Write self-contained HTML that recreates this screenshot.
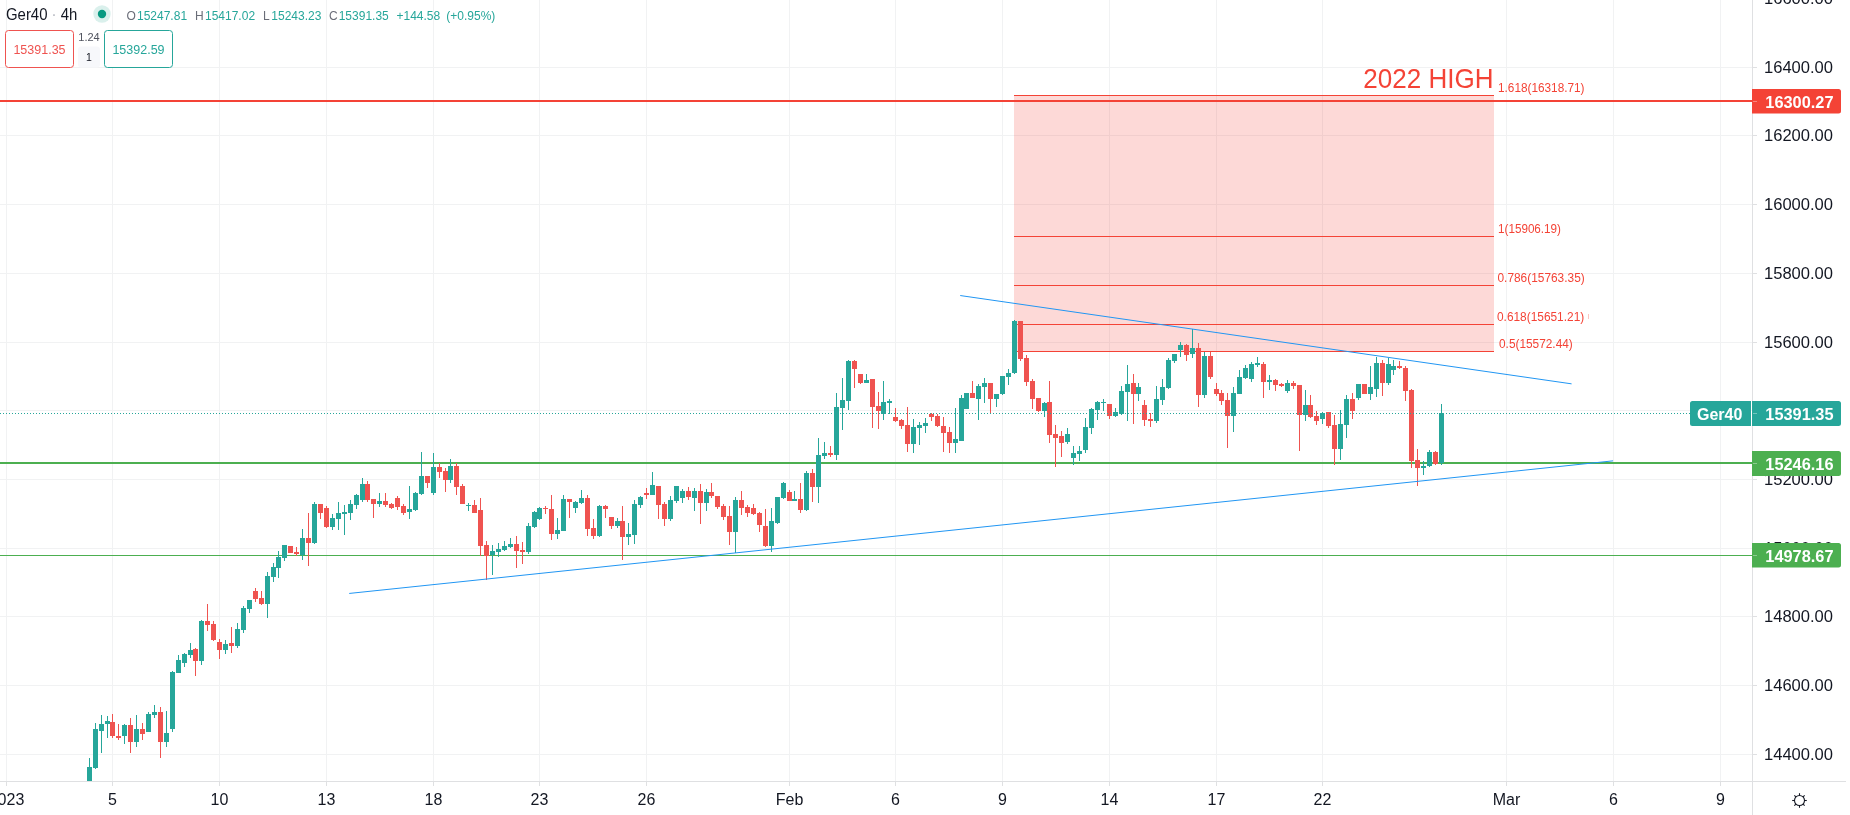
<!DOCTYPE html>
<html><head><meta charset="utf-8"><style>
html,body{margin:0;padding:0;background:#fff;}
body{width:1850px;height:815px;overflow:hidden;position:relative;font-family:"Liberation Sans", sans-serif;}
svg{position:absolute;left:0;top:0;will-change:transform;}
svg text{font-family:"Liberation Sans", sans-serif;}
.hdr{position:absolute;white-space:nowrap;}
</style></head><body>
<svg width="1850" height="815" viewBox="0 0 1850 815" shape-rendering="crispEdges">
<rect x="6" y="0" width="1" height="781" fill="#f1f2f3"/><rect x="112" y="0" width="1" height="781" fill="#f1f2f3"/><rect x="219" y="0" width="1" height="781" fill="#f1f2f3"/><rect x="326" y="0" width="1" height="781" fill="#f1f2f3"/><rect x="433" y="0" width="1" height="781" fill="#f1f2f3"/><rect x="539" y="0" width="1" height="781" fill="#f1f2f3"/><rect x="646" y="0" width="1" height="781" fill="#f1f2f3"/><rect x="789" y="0" width="1" height="781" fill="#f1f2f3"/><rect x="895" y="0" width="1" height="781" fill="#f1f2f3"/><rect x="1002" y="0" width="1" height="781" fill="#f1f2f3"/><rect x="1109" y="0" width="1" height="781" fill="#f1f2f3"/><rect x="1216" y="0" width="1" height="781" fill="#f1f2f3"/><rect x="1322" y="0" width="1" height="781" fill="#f1f2f3"/><rect x="1506" y="0" width="1" height="781" fill="#f1f2f3"/><rect x="1613" y="0" width="1" height="781" fill="#f1f2f3"/><rect x="1720" y="0" width="1" height="781" fill="#f1f2f3"/><rect x="0" y="-2" width="1752" height="1" fill="#f1f2f3"/><rect x="0" y="67" width="1752" height="1" fill="#f1f2f3"/><rect x="0" y="135" width="1752" height="1" fill="#f1f2f3"/><rect x="0" y="204" width="1752" height="1" fill="#f1f2f3"/><rect x="0" y="273" width="1752" height="1" fill="#f1f2f3"/><rect x="0" y="342" width="1752" height="1" fill="#f1f2f3"/><rect x="0" y="410" width="1752" height="1" fill="#f1f2f3"/><rect x="0" y="479" width="1752" height="1" fill="#f1f2f3"/><rect x="0" y="548" width="1752" height="1" fill="#f1f2f3"/><rect x="0" y="616" width="1752" height="1" fill="#f1f2f3"/><rect x="0" y="685" width="1752" height="1" fill="#f1f2f3"/><rect x="0" y="754" width="1752" height="1" fill="#f1f2f3"/><rect x="1014" y="95" width="480" height="256" fill="#f44336" fill-opacity="0.2"/><rect x="1014" y="95" width="480" height="1" fill="#f44336"/><rect x="1014" y="236" width="480" height="1" fill="#f44336"/><rect x="1014" y="285" width="480" height="1" fill="#f44336"/><rect x="1014" y="324" width="480" height="1" fill="#f44336"/><rect x="1014" y="351" width="480" height="1" fill="#f44336"/><rect x="0" y="100" width="1752" height="2" fill="#f44336"/><rect x="0" y="462" width="1752" height="2" fill="#4caf50"/><rect x="0" y="555" width="1752" height="1" fill="#4caf50"/><rect x="89" y="758" width="1" height="23" fill="#26a69a"/><rect x="87" y="767" width="5" height="14" fill="#26a69a"/><rect x="95" y="723" width="1" height="46" fill="#26a69a"/><rect x="93" y="729" width="5" height="39" fill="#26a69a"/><rect x="101" y="715" width="1" height="38" fill="#26a69a"/><rect x="99" y="724" width="5" height="7" fill="#26a69a"/><rect x="107" y="716" width="1" height="22" fill="#26a69a"/><rect x="105" y="721" width="5" height="3" fill="#26a69a"/><rect x="112" y="714" width="1" height="24" fill="#ef5350"/><rect x="110" y="722" width="5" height="14" fill="#ef5350"/><rect x="118" y="724" width="1" height="16" fill="#ef5350"/><rect x="116" y="736" width="5" height="2" fill="#ef5350"/><rect x="124" y="724" width="1" height="20" fill="#26a69a"/><rect x="122" y="725" width="5" height="11" fill="#26a69a"/><rect x="130" y="718" width="1" height="35" fill="#ef5350"/><rect x="128" y="725" width="5" height="17" fill="#ef5350"/><rect x="136" y="715" width="1" height="32" fill="#26a69a"/><rect x="134" y="729" width="5" height="13" fill="#26a69a"/><rect x="142" y="723" width="1" height="17" fill="#ef5350"/><rect x="140" y="729" width="5" height="5" fill="#ef5350"/><rect x="148" y="712" width="1" height="20" fill="#26a69a"/><rect x="146" y="714" width="5" height="18" fill="#26a69a"/><rect x="154" y="705" width="1" height="13" fill="#26a69a"/><rect x="152" y="712" width="5" height="3" fill="#26a69a"/><rect x="160" y="707" width="1" height="51" fill="#ef5350"/><rect x="158" y="712" width="5" height="30" fill="#ef5350"/><rect x="166" y="711" width="1" height="36" fill="#26a69a"/><rect x="164" y="733" width="5" height="9" fill="#26a69a"/><rect x="172" y="671" width="1" height="61" fill="#26a69a"/><rect x="170" y="672" width="5" height="57" fill="#26a69a"/><rect x="178" y="655" width="1" height="18" fill="#26a69a"/><rect x="176" y="660" width="5" height="13" fill="#26a69a"/><rect x="184" y="653" width="1" height="14" fill="#26a69a"/><rect x="182" y="654" width="5" height="9" fill="#26a69a"/><rect x="190" y="643" width="1" height="15" fill="#26a69a"/><rect x="188" y="650" width="5" height="5" fill="#26a69a"/><rect x="195" y="648" width="1" height="28" fill="#ef5350"/><rect x="193" y="649" width="5" height="12" fill="#ef5350"/><rect x="201" y="620" width="1" height="45" fill="#26a69a"/><rect x="199" y="621" width="5" height="40" fill="#26a69a"/><rect x="207" y="604" width="1" height="27" fill="#ef5350"/><rect x="205" y="621" width="5" height="4" fill="#ef5350"/><rect x="213" y="621" width="1" height="20" fill="#ef5350"/><rect x="211" y="624" width="5" height="16" fill="#ef5350"/><rect x="219" y="639" width="1" height="20" fill="#ef5350"/><rect x="217" y="642" width="5" height="8" fill="#ef5350"/><rect x="225" y="640" width="1" height="14" fill="#26a69a"/><rect x="223" y="644" width="5" height="6" fill="#26a69a"/><rect x="231" y="627" width="1" height="26" fill="#ef5350"/><rect x="229" y="643" width="5" height="3" fill="#ef5350"/><rect x="237" y="623" width="1" height="25" fill="#26a69a"/><rect x="235" y="629" width="5" height="17" fill="#26a69a"/><rect x="243" y="606" width="1" height="27" fill="#26a69a"/><rect x="241" y="608" width="5" height="22" fill="#26a69a"/><rect x="249" y="600" width="1" height="13" fill="#26a69a"/><rect x="247" y="600" width="5" height="9" fill="#26a69a"/><rect x="255" y="588" width="1" height="14" fill="#ef5350"/><rect x="253" y="591" width="5" height="8" fill="#ef5350"/><rect x="261" y="591" width="1" height="14" fill="#ef5350"/><rect x="259" y="598" width="5" height="6" fill="#ef5350"/><rect x="267" y="572" width="1" height="46" fill="#26a69a"/><rect x="265" y="576" width="5" height="28" fill="#26a69a"/><rect x="273" y="563" width="1" height="19" fill="#26a69a"/><rect x="271" y="567" width="5" height="10" fill="#26a69a"/><rect x="278" y="551" width="1" height="27" fill="#26a69a"/><rect x="276" y="557" width="5" height="11" fill="#26a69a"/><rect x="284" y="545" width="1" height="16" fill="#26a69a"/><rect x="282" y="545" width="5" height="13" fill="#26a69a"/><rect x="290" y="546" width="1" height="7" fill="#ef5350"/><rect x="288" y="546" width="5" height="7" fill="#ef5350"/><rect x="296" y="547" width="1" height="9" fill="#ef5350"/><rect x="294" y="552" width="5" height="2" fill="#ef5350"/><rect x="302" y="529" width="1" height="31" fill="#26a69a"/><rect x="300" y="538" width="5" height="17" fill="#26a69a"/><rect x="308" y="513" width="1" height="53" fill="#ef5350"/><rect x="306" y="538" width="5" height="5" fill="#ef5350"/><rect x="314" y="502" width="1" height="42" fill="#26a69a"/><rect x="312" y="504" width="5" height="39" fill="#26a69a"/><rect x="320" y="504" width="1" height="15" fill="#ef5350"/><rect x="318" y="504" width="5" height="9" fill="#ef5350"/><rect x="326" y="506" width="1" height="22" fill="#ef5350"/><rect x="324" y="508" width="5" height="19" fill="#ef5350"/><rect x="332" y="514" width="1" height="16" fill="#26a69a"/><rect x="330" y="518" width="5" height="9" fill="#26a69a"/><rect x="338" y="502" width="1" height="28" fill="#26a69a"/><rect x="336" y="513" width="5" height="6" fill="#26a69a"/><rect x="344" y="505" width="1" height="30" fill="#26a69a"/><rect x="342" y="512" width="5" height="2" fill="#26a69a"/><rect x="350" y="500" width="1" height="20" fill="#26a69a"/><rect x="348" y="504" width="5" height="9" fill="#26a69a"/><rect x="356" y="494" width="1" height="15" fill="#26a69a"/><rect x="354" y="495" width="5" height="10" fill="#26a69a"/><rect x="362" y="478" width="1" height="24" fill="#26a69a"/><rect x="360" y="484" width="5" height="16" fill="#26a69a"/><rect x="367" y="481" width="1" height="21" fill="#ef5350"/><rect x="365" y="484" width="5" height="16" fill="#ef5350"/><rect x="373" y="499" width="1" height="19" fill="#ef5350"/><rect x="371" y="499" width="5" height="5" fill="#ef5350"/><rect x="379" y="493" width="1" height="14" fill="#26a69a"/><rect x="377" y="501" width="5" height="3" fill="#26a69a"/><rect x="385" y="493" width="1" height="14" fill="#ef5350"/><rect x="383" y="501" width="5" height="4" fill="#ef5350"/><rect x="391" y="503" width="1" height="6" fill="#ef5350"/><rect x="389" y="504" width="5" height="4" fill="#ef5350"/><rect x="397" y="496" width="1" height="14" fill="#ef5350"/><rect x="395" y="498" width="5" height="9" fill="#ef5350"/><rect x="403" y="504" width="1" height="11" fill="#ef5350"/><rect x="401" y="506" width="5" height="7" fill="#ef5350"/><rect x="409" y="486" width="1" height="33" fill="#26a69a"/><rect x="407" y="509" width="5" height="3" fill="#26a69a"/><rect x="415" y="492" width="1" height="19" fill="#26a69a"/><rect x="413" y="493" width="5" height="17" fill="#26a69a"/><rect x="421" y="452" width="1" height="43" fill="#26a69a"/><rect x="419" y="476" width="5" height="18" fill="#26a69a"/><rect x="427" y="476" width="1" height="12" fill="#ef5350"/><rect x="425" y="476" width="5" height="7" fill="#ef5350"/><rect x="433" y="453" width="1" height="42" fill="#26a69a"/><rect x="431" y="467" width="5" height="26" fill="#26a69a"/><rect x="439" y="463" width="1" height="15" fill="#ef5350"/><rect x="437" y="467" width="5" height="5" fill="#ef5350"/><rect x="445" y="468" width="1" height="24" fill="#ef5350"/><rect x="443" y="471" width="5" height="9" fill="#ef5350"/><rect x="450" y="459" width="1" height="24" fill="#26a69a"/><rect x="448" y="466" width="5" height="14" fill="#26a69a"/><rect x="456" y="463" width="1" height="32" fill="#ef5350"/><rect x="454" y="466" width="5" height="21" fill="#ef5350"/><rect x="462" y="484" width="1" height="20" fill="#ef5350"/><rect x="460" y="486" width="5" height="18" fill="#ef5350"/><rect x="468" y="503" width="1" height="8" fill="#26a69a"/><rect x="466" y="505" width="5" height="1" fill="#26a69a"/><rect x="474" y="500" width="1" height="13" fill="#ef5350"/><rect x="472" y="505" width="5" height="8" fill="#ef5350"/><rect x="480" y="498" width="1" height="58" fill="#ef5350"/><rect x="478" y="510" width="5" height="36" fill="#ef5350"/><rect x="486" y="541" width="1" height="39" fill="#ef5350"/><rect x="484" y="545" width="5" height="11" fill="#ef5350"/><rect x="492" y="545" width="1" height="30" fill="#26a69a"/><rect x="490" y="551" width="5" height="4" fill="#26a69a"/><rect x="498" y="543" width="1" height="14" fill="#26a69a"/><rect x="496" y="549" width="5" height="3" fill="#26a69a"/><rect x="504" y="541" width="1" height="10" fill="#26a69a"/><rect x="502" y="546" width="5" height="4" fill="#26a69a"/><rect x="510" y="538" width="1" height="10" fill="#26a69a"/><rect x="508" y="544" width="5" height="3" fill="#26a69a"/><rect x="516" y="536" width="1" height="32" fill="#ef5350"/><rect x="514" y="544" width="5" height="7" fill="#ef5350"/><rect x="522" y="542" width="1" height="22" fill="#ef5350"/><rect x="520" y="550" width="5" height="2" fill="#ef5350"/><rect x="528" y="523" width="1" height="31" fill="#26a69a"/><rect x="526" y="526" width="5" height="26" fill="#26a69a"/><rect x="534" y="511" width="1" height="17" fill="#26a69a"/><rect x="532" y="512" width="5" height="15" fill="#26a69a"/><rect x="539" y="507" width="1" height="13" fill="#26a69a"/><rect x="537" y="508" width="5" height="11" fill="#26a69a"/><rect x="545" y="506" width="1" height="8" fill="#ef5350"/><rect x="543" y="508" width="5" height="1" fill="#ef5350"/><rect x="551" y="495" width="1" height="45" fill="#ef5350"/><rect x="549" y="509" width="5" height="25" fill="#ef5350"/><rect x="557" y="518" width="1" height="21" fill="#26a69a"/><rect x="555" y="530" width="5" height="4" fill="#26a69a"/><rect x="563" y="495" width="1" height="36" fill="#26a69a"/><rect x="561" y="499" width="5" height="32" fill="#26a69a"/><rect x="569" y="499" width="1" height="19" fill="#ef5350"/><rect x="567" y="499" width="5" height="3" fill="#ef5350"/><rect x="575" y="501" width="1" height="12" fill="#26a69a"/><rect x="573" y="502" width="5" height="6" fill="#26a69a"/><rect x="581" y="490" width="1" height="14" fill="#26a69a"/><rect x="579" y="498" width="5" height="5" fill="#26a69a"/><rect x="587" y="495" width="1" height="41" fill="#ef5350"/><rect x="585" y="498" width="5" height="31" fill="#ef5350"/><rect x="593" y="519" width="1" height="20" fill="#ef5350"/><rect x="591" y="528" width="5" height="8" fill="#ef5350"/><rect x="599" y="505" width="1" height="32" fill="#26a69a"/><rect x="597" y="506" width="5" height="30" fill="#26a69a"/><rect x="605" y="505" width="1" height="13" fill="#ef5350"/><rect x="603" y="506" width="5" height="3" fill="#ef5350"/><rect x="611" y="517" width="1" height="12" fill="#ef5350"/><rect x="609" y="517" width="5" height="9" fill="#ef5350"/><rect x="617" y="518" width="1" height="10" fill="#26a69a"/><rect x="615" y="521" width="5" height="5" fill="#26a69a"/><rect x="622" y="506" width="1" height="54" fill="#ef5350"/><rect x="620" y="521" width="5" height="16" fill="#ef5350"/><rect x="628" y="523" width="1" height="22" fill="#26a69a"/><rect x="626" y="534" width="5" height="3" fill="#26a69a"/><rect x="634" y="500" width="1" height="44" fill="#26a69a"/><rect x="632" y="504" width="5" height="31" fill="#26a69a"/><rect x="640" y="496" width="1" height="12" fill="#26a69a"/><rect x="638" y="497" width="5" height="8" fill="#26a69a"/><rect x="646" y="488" width="1" height="11" fill="#ef5350"/><rect x="644" y="493" width="5" height="2" fill="#ef5350"/><rect x="652" y="472" width="1" height="23" fill="#26a69a"/><rect x="650" y="485" width="5" height="10" fill="#26a69a"/><rect x="658" y="486" width="1" height="33" fill="#ef5350"/><rect x="656" y="486" width="5" height="19" fill="#ef5350"/><rect x="664" y="502" width="1" height="24" fill="#ef5350"/><rect x="662" y="504" width="5" height="15" fill="#ef5350"/><rect x="670" y="496" width="1" height="25" fill="#26a69a"/><rect x="668" y="500" width="5" height="19" fill="#26a69a"/><rect x="676" y="486" width="1" height="17" fill="#26a69a"/><rect x="674" y="486" width="5" height="15" fill="#26a69a"/><rect x="682" y="489" width="1" height="14" fill="#26a69a"/><rect x="680" y="491" width="5" height="7" fill="#26a69a"/><rect x="688" y="487" width="1" height="13" fill="#ef5350"/><rect x="686" y="491" width="5" height="6" fill="#ef5350"/><rect x="694" y="488" width="1" height="23" fill="#26a69a"/><rect x="692" y="491" width="5" height="7" fill="#26a69a"/><rect x="700" y="484" width="1" height="40" fill="#ef5350"/><rect x="698" y="491" width="5" height="12" fill="#ef5350"/><rect x="706" y="489" width="1" height="22" fill="#26a69a"/><rect x="704" y="492" width="5" height="11" fill="#26a69a"/><rect x="711" y="483" width="1" height="15" fill="#ef5350"/><rect x="709" y="492" width="5" height="4" fill="#ef5350"/><rect x="717" y="496" width="1" height="13" fill="#ef5350"/><rect x="715" y="496" width="5" height="11" fill="#ef5350"/><rect x="723" y="504" width="1" height="16" fill="#ef5350"/><rect x="721" y="506" width="5" height="11" fill="#ef5350"/><rect x="729" y="506" width="1" height="39" fill="#ef5350"/><rect x="727" y="516" width="5" height="16" fill="#ef5350"/><rect x="735" y="497" width="1" height="56" fill="#26a69a"/><rect x="733" y="500" width="5" height="32" fill="#26a69a"/><rect x="741" y="491" width="1" height="24" fill="#ef5350"/><rect x="739" y="500" width="5" height="8" fill="#ef5350"/><rect x="747" y="505" width="1" height="12" fill="#ef5350"/><rect x="745" y="507" width="5" height="6" fill="#ef5350"/><rect x="753" y="504" width="1" height="11" fill="#ef5350"/><rect x="751" y="508" width="5" height="6" fill="#ef5350"/><rect x="759" y="512" width="1" height="20" fill="#ef5350"/><rect x="757" y="513" width="5" height="12" fill="#ef5350"/><rect x="765" y="509" width="1" height="38" fill="#ef5350"/><rect x="763" y="526" width="5" height="20" fill="#ef5350"/><rect x="771" y="508" width="1" height="44" fill="#26a69a"/><rect x="769" y="521" width="5" height="25" fill="#26a69a"/><rect x="777" y="497" width="1" height="27" fill="#26a69a"/><rect x="775" y="497" width="5" height="26" fill="#26a69a"/><rect x="783" y="482" width="1" height="17" fill="#26a69a"/><rect x="781" y="483" width="5" height="15" fill="#26a69a"/><rect x="789" y="490" width="1" height="11" fill="#ef5350"/><rect x="787" y="492" width="5" height="9" fill="#ef5350"/><rect x="794" y="491" width="1" height="10" fill="#26a69a"/><rect x="792" y="499" width="5" height="2" fill="#26a69a"/><rect x="800" y="483" width="1" height="30" fill="#ef5350"/><rect x="798" y="499" width="5" height="11" fill="#ef5350"/><rect x="806" y="471" width="1" height="40" fill="#26a69a"/><rect x="804" y="473" width="5" height="37" fill="#26a69a"/><rect x="812" y="469" width="1" height="33" fill="#ef5350"/><rect x="810" y="473" width="5" height="14" fill="#ef5350"/><rect x="818" y="438" width="1" height="65" fill="#26a69a"/><rect x="816" y="455" width="5" height="32" fill="#26a69a"/><rect x="824" y="442" width="1" height="17" fill="#26a69a"/><rect x="822" y="453" width="5" height="3" fill="#26a69a"/><rect x="830" y="446" width="1" height="11" fill="#ef5350"/><rect x="828" y="453" width="5" height="2" fill="#ef5350"/><rect x="836" y="393" width="1" height="67" fill="#26a69a"/><rect x="834" y="407" width="5" height="48" fill="#26a69a"/><rect x="842" y="378" width="1" height="52" fill="#26a69a"/><rect x="840" y="400" width="5" height="8" fill="#26a69a"/><rect x="848" y="360" width="1" height="50" fill="#26a69a"/><rect x="846" y="361" width="5" height="40" fill="#26a69a"/><rect x="854" y="360" width="1" height="28" fill="#ef5350"/><rect x="852" y="361" width="5" height="8" fill="#ef5350"/><rect x="860" y="374" width="1" height="10" fill="#ef5350"/><rect x="858" y="374" width="5" height="9" fill="#ef5350"/><rect x="866" y="374" width="1" height="9" fill="#26a69a"/><rect x="864" y="380" width="5" height="3" fill="#26a69a"/><rect x="872" y="379" width="1" height="49" fill="#ef5350"/><rect x="870" y="379" width="5" height="28" fill="#ef5350"/><rect x="878" y="392" width="1" height="37" fill="#ef5350"/><rect x="876" y="406" width="5" height="5" fill="#ef5350"/><rect x="883" y="381" width="1" height="39" fill="#26a69a"/><rect x="881" y="402" width="5" height="12" fill="#26a69a"/><rect x="889" y="399" width="1" height="15" fill="#26a69a"/><rect x="887" y="401" width="5" height="2" fill="#26a69a"/><rect x="895" y="408" width="1" height="14" fill="#ef5350"/><rect x="893" y="417" width="5" height="4" fill="#ef5350"/><rect x="901" y="419" width="1" height="10" fill="#ef5350"/><rect x="899" y="420" width="5" height="6" fill="#ef5350"/><rect x="907" y="407" width="1" height="45" fill="#ef5350"/><rect x="905" y="425" width="5" height="19" fill="#ef5350"/><rect x="913" y="419" width="1" height="34" fill="#26a69a"/><rect x="911" y="427" width="5" height="17" fill="#26a69a"/><rect x="919" y="422" width="1" height="23" fill="#26a69a"/><rect x="917" y="425" width="5" height="3" fill="#26a69a"/><rect x="925" y="418" width="1" height="15" fill="#26a69a"/><rect x="923" y="423" width="5" height="3" fill="#26a69a"/><rect x="931" y="413" width="1" height="8" fill="#ef5350"/><rect x="929" y="414" width="5" height="3" fill="#ef5350"/><rect x="937" y="414" width="1" height="13" fill="#ef5350"/><rect x="935" y="416" width="5" height="10" fill="#ef5350"/><rect x="943" y="417" width="1" height="35" fill="#ef5350"/><rect x="941" y="426" width="5" height="7" fill="#ef5350"/><rect x="949" y="427" width="1" height="26" fill="#ef5350"/><rect x="947" y="432" width="5" height="11" fill="#ef5350"/><rect x="955" y="408" width="1" height="45" fill="#26a69a"/><rect x="953" y="439" width="5" height="4" fill="#26a69a"/><rect x="961" y="395" width="1" height="46" fill="#26a69a"/><rect x="959" y="398" width="5" height="43" fill="#26a69a"/><rect x="966" y="393" width="1" height="16" fill="#26a69a"/><rect x="964" y="393" width="5" height="16" fill="#26a69a"/><rect x="972" y="381" width="1" height="17" fill="#ef5350"/><rect x="970" y="393" width="5" height="5" fill="#ef5350"/><rect x="978" y="384" width="1" height="36" fill="#26a69a"/><rect x="976" y="386" width="5" height="13" fill="#26a69a"/><rect x="984" y="378" width="1" height="25" fill="#26a69a"/><rect x="982" y="383" width="5" height="4" fill="#26a69a"/><rect x="990" y="383" width="1" height="30" fill="#ef5350"/><rect x="988" y="383" width="5" height="16" fill="#ef5350"/><rect x="996" y="394" width="1" height="13" fill="#26a69a"/><rect x="994" y="394" width="5" height="5" fill="#26a69a"/><rect x="1002" y="376" width="1" height="19" fill="#26a69a"/><rect x="1000" y="376" width="5" height="18" fill="#26a69a"/><rect x="1008" y="369" width="1" height="16" fill="#26a69a"/><rect x="1006" y="373" width="5" height="4" fill="#26a69a"/><rect x="1014" y="320" width="1" height="54" fill="#26a69a"/><rect x="1012" y="321" width="5" height="52" fill="#26a69a"/><rect x="1020" y="321" width="1" height="40" fill="#ef5350"/><rect x="1018" y="321" width="5" height="38" fill="#ef5350"/><rect x="1026" y="355" width="1" height="31" fill="#ef5350"/><rect x="1024" y="358" width="5" height="24" fill="#ef5350"/><rect x="1032" y="379" width="1" height="30" fill="#ef5350"/><rect x="1030" y="381" width="5" height="18" fill="#ef5350"/><rect x="1038" y="398" width="1" height="14" fill="#ef5350"/><rect x="1036" y="398" width="5" height="13" fill="#ef5350"/><rect x="1044" y="402" width="1" height="15" fill="#26a69a"/><rect x="1042" y="403" width="5" height="8" fill="#26a69a"/><rect x="1049" y="381" width="1" height="62" fill="#ef5350"/><rect x="1047" y="402" width="5" height="33" fill="#ef5350"/><rect x="1055" y="425" width="1" height="42" fill="#ef5350"/><rect x="1053" y="434" width="5" height="4" fill="#ef5350"/><rect x="1061" y="431" width="1" height="26" fill="#ef5350"/><rect x="1059" y="436" width="5" height="7" fill="#ef5350"/><rect x="1067" y="428" width="1" height="16" fill="#26a69a"/><rect x="1065" y="434" width="5" height="8" fill="#26a69a"/><rect x="1073" y="446" width="1" height="19" fill="#26a69a"/><rect x="1071" y="453" width="5" height="5" fill="#26a69a"/><rect x="1079" y="446" width="1" height="15" fill="#26a69a"/><rect x="1077" y="451" width="5" height="3" fill="#26a69a"/><rect x="1085" y="418" width="1" height="35" fill="#26a69a"/><rect x="1083" y="427" width="5" height="23" fill="#26a69a"/><rect x="1091" y="408" width="1" height="26" fill="#26a69a"/><rect x="1089" y="409" width="5" height="19" fill="#26a69a"/><rect x="1097" y="401" width="1" height="19" fill="#26a69a"/><rect x="1095" y="402" width="5" height="8" fill="#26a69a"/><rect x="1103" y="399" width="1" height="12" fill="#26a69a"/><rect x="1101" y="402" width="5" height="1" fill="#26a69a"/><rect x="1109" y="404" width="1" height="15" fill="#ef5350"/><rect x="1107" y="404" width="5" height="12" fill="#ef5350"/><rect x="1115" y="408" width="1" height="9" fill="#26a69a"/><rect x="1113" y="412" width="5" height="4" fill="#26a69a"/><rect x="1121" y="386" width="1" height="29" fill="#26a69a"/><rect x="1119" y="391" width="5" height="23" fill="#26a69a"/><rect x="1127" y="365" width="1" height="56" fill="#26a69a"/><rect x="1125" y="384" width="5" height="8" fill="#26a69a"/><rect x="1133" y="374" width="1" height="50" fill="#ef5350"/><rect x="1131" y="383" width="5" height="11" fill="#ef5350"/><rect x="1138" y="383" width="1" height="18" fill="#26a69a"/><rect x="1136" y="387" width="5" height="7" fill="#26a69a"/><rect x="1144" y="400" width="1" height="26" fill="#ef5350"/><rect x="1142" y="405" width="5" height="15" fill="#ef5350"/><rect x="1150" y="413" width="1" height="14" fill="#ef5350"/><rect x="1148" y="419" width="5" height="2" fill="#ef5350"/><rect x="1156" y="386" width="1" height="37" fill="#26a69a"/><rect x="1154" y="399" width="5" height="22" fill="#26a69a"/><rect x="1162" y="379" width="1" height="26" fill="#26a69a"/><rect x="1160" y="387" width="5" height="13" fill="#26a69a"/><rect x="1168" y="358" width="1" height="31" fill="#26a69a"/><rect x="1166" y="360" width="5" height="28" fill="#26a69a"/><rect x="1174" y="354" width="1" height="9" fill="#26a69a"/><rect x="1172" y="354" width="5" height="7" fill="#26a69a"/><rect x="1180" y="342" width="1" height="15" fill="#26a69a"/><rect x="1178" y="345" width="5" height="5" fill="#26a69a"/><rect x="1186" y="344" width="1" height="17" fill="#ef5350"/><rect x="1184" y="345" width="5" height="10" fill="#ef5350"/><rect x="1192" y="329" width="1" height="29" fill="#26a69a"/><rect x="1190" y="348" width="5" height="6" fill="#26a69a"/><rect x="1198" y="343" width="1" height="64" fill="#ef5350"/><rect x="1196" y="348" width="5" height="47" fill="#ef5350"/><rect x="1204" y="352" width="1" height="46" fill="#26a69a"/><rect x="1202" y="356" width="5" height="39" fill="#26a69a"/><rect x="1210" y="352" width="1" height="27" fill="#ef5350"/><rect x="1208" y="356" width="5" height="21" fill="#ef5350"/><rect x="1216" y="383" width="1" height="13" fill="#ef5350"/><rect x="1214" y="389" width="5" height="5" fill="#ef5350"/><rect x="1221" y="390" width="1" height="15" fill="#ef5350"/><rect x="1219" y="393" width="5" height="8" fill="#ef5350"/><rect x="1227" y="393" width="1" height="55" fill="#ef5350"/><rect x="1225" y="400" width="5" height="16" fill="#ef5350"/><rect x="1233" y="387" width="1" height="45" fill="#26a69a"/><rect x="1231" y="393" width="5" height="23" fill="#26a69a"/><rect x="1239" y="370" width="1" height="24" fill="#26a69a"/><rect x="1237" y="377" width="5" height="17" fill="#26a69a"/><rect x="1245" y="365" width="1" height="14" fill="#26a69a"/><rect x="1243" y="368" width="5" height="10" fill="#26a69a"/><rect x="1251" y="362" width="1" height="20" fill="#26a69a"/><rect x="1249" y="364" width="5" height="15" fill="#26a69a"/><rect x="1257" y="357" width="1" height="10" fill="#26a69a"/><rect x="1255" y="363" width="5" height="2" fill="#26a69a"/><rect x="1263" y="362" width="1" height="36" fill="#ef5350"/><rect x="1261" y="364" width="5" height="18" fill="#ef5350"/><rect x="1269" y="375" width="1" height="15" fill="#26a69a"/><rect x="1267" y="380" width="5" height="2" fill="#26a69a"/><rect x="1275" y="379" width="1" height="12" fill="#ef5350"/><rect x="1273" y="380" width="5" height="5" fill="#ef5350"/><rect x="1281" y="383" width="1" height="4" fill="#ef5350"/><rect x="1279" y="384" width="5" height="2" fill="#ef5350"/><rect x="1287" y="380" width="1" height="13" fill="#26a69a"/><rect x="1285" y="383" width="5" height="8" fill="#26a69a"/><rect x="1293" y="381" width="1" height="8" fill="#ef5350"/><rect x="1291" y="383" width="5" height="3" fill="#ef5350"/><rect x="1299" y="385" width="1" height="66" fill="#ef5350"/><rect x="1297" y="385" width="5" height="30" fill="#ef5350"/><rect x="1305" y="390" width="1" height="31" fill="#26a69a"/><rect x="1303" y="405" width="5" height="10" fill="#26a69a"/><rect x="1310" y="395" width="1" height="23" fill="#ef5350"/><rect x="1308" y="405" width="5" height="12" fill="#ef5350"/><rect x="1316" y="411" width="1" height="14" fill="#ef5350"/><rect x="1314" y="416" width="5" height="5" fill="#ef5350"/><rect x="1322" y="412" width="1" height="12" fill="#26a69a"/><rect x="1320" y="413" width="5" height="6" fill="#26a69a"/><rect x="1328" y="412" width="1" height="16" fill="#ef5350"/><rect x="1326" y="412" width="5" height="14" fill="#ef5350"/><rect x="1334" y="415" width="1" height="50" fill="#ef5350"/><rect x="1332" y="425" width="5" height="24" fill="#ef5350"/><rect x="1340" y="410" width="1" height="50" fill="#26a69a"/><rect x="1338" y="424" width="5" height="25" fill="#26a69a"/><rect x="1346" y="395" width="1" height="43" fill="#26a69a"/><rect x="1344" y="399" width="5" height="26" fill="#26a69a"/><rect x="1352" y="393" width="1" height="26" fill="#ef5350"/><rect x="1350" y="399" width="5" height="12" fill="#ef5350"/><rect x="1358" y="384" width="1" height="16" fill="#26a69a"/><rect x="1356" y="384" width="5" height="14" fill="#26a69a"/><rect x="1364" y="384" width="1" height="10" fill="#ef5350"/><rect x="1362" y="384" width="5" height="10" fill="#ef5350"/><rect x="1370" y="366" width="1" height="34" fill="#26a69a"/><rect x="1368" y="387" width="5" height="7" fill="#26a69a"/><rect x="1376" y="357" width="1" height="40" fill="#26a69a"/><rect x="1374" y="363" width="5" height="26" fill="#26a69a"/><rect x="1382" y="360" width="1" height="36" fill="#ef5350"/><rect x="1380" y="363" width="5" height="20" fill="#ef5350"/><rect x="1388" y="358" width="1" height="27" fill="#26a69a"/><rect x="1386" y="364" width="5" height="19" fill="#26a69a"/><rect x="1393" y="360" width="1" height="15" fill="#26a69a"/><rect x="1391" y="366" width="5" height="4" fill="#26a69a"/><rect x="1399" y="361" width="1" height="8" fill="#ef5350"/><rect x="1397" y="366" width="5" height="2" fill="#ef5350"/><rect x="1405" y="366" width="1" height="35" fill="#ef5350"/><rect x="1403" y="368" width="5" height="23" fill="#ef5350"/><rect x="1411" y="389" width="1" height="79" fill="#ef5350"/><rect x="1409" y="390" width="5" height="71" fill="#ef5350"/><rect x="1417" y="449" width="1" height="37" fill="#ef5350"/><rect x="1415" y="460" width="5" height="8" fill="#ef5350"/><rect x="1423" y="461" width="1" height="14" fill="#26a69a"/><rect x="1421" y="466" width="5" height="2" fill="#26a69a"/><rect x="1429" y="450" width="1" height="17" fill="#26a69a"/><rect x="1427" y="452" width="5" height="14" fill="#26a69a"/><rect x="1435" y="451" width="1" height="14" fill="#ef5350"/><rect x="1433" y="452" width="5" height="12" fill="#ef5350"/><rect x="1441" y="404" width="1" height="61" fill="#26a69a"/><rect x="1439" y="413" width="5" height="50" fill="#26a69a"/><line x1="0" y1="413.5" x2="1690" y2="413.5" stroke="#26a69a" stroke-width="1" stroke-dasharray="1 2"/><line x1="349.6" y1="593.4" x2="1612.7" y2="460.9" stroke="#2196f3" stroke-width="1" stroke-linecap="round" shape-rendering="geometricPrecision"/><line x1="960.6" y1="295.6" x2="1571.2" y2="383.8" stroke="#2196f3" stroke-width="1" stroke-linecap="round" shape-rendering="geometricPrecision"/><text x="1498" y="92.4" font-size="12" fill="#f44336" textLength="86.5" lengthAdjust="spacingAndGlyphs">1.618(16318.71)</text><text x="1498" y="232.9" font-size="12" fill="#f44336" textLength="63" lengthAdjust="spacingAndGlyphs">1(15906.19)</text><text x="1497.5" y="282.0" font-size="12" fill="#f44336" textLength="87.2" lengthAdjust="spacingAndGlyphs">0.786(15763.35)</text><text x="1497" y="320.8" font-size="12" fill="#f44336" textLength="87.2" lengthAdjust="spacingAndGlyphs">0.618(15651.21)</text><text x="1499" y="348.0" font-size="12" fill="#f44336" textLength="73.8" lengthAdjust="spacingAndGlyphs">0.5(15572.44)</text><text x="1363.3" y="87.8" font-size="28" fill="#f44336" textLength="130.2" lengthAdjust="spacingAndGlyphs">2022 HIGH</text><rect x="1588" y="314" width="1" height="5" fill="#f44336" fill-opacity="0.3"/><rect x="1752" y="0" width="1" height="815" fill="#dfe0e2"/><rect x="0" y="781" width="1846" height="1" fill="#dfe0e2"/><rect x="6" y="782" width="1" height="4" fill="#dfe0e2"/><rect x="112" y="782" width="1" height="4" fill="#dfe0e2"/><rect x="219" y="782" width="1" height="4" fill="#dfe0e2"/><rect x="326" y="782" width="1" height="4" fill="#dfe0e2"/><rect x="433" y="782" width="1" height="4" fill="#dfe0e2"/><rect x="539" y="782" width="1" height="4" fill="#dfe0e2"/><rect x="646" y="782" width="1" height="4" fill="#dfe0e2"/><rect x="789" y="782" width="1" height="4" fill="#dfe0e2"/><rect x="895" y="782" width="1" height="4" fill="#dfe0e2"/><rect x="1002" y="782" width="1" height="4" fill="#dfe0e2"/><rect x="1109" y="782" width="1" height="4" fill="#dfe0e2"/><rect x="1216" y="782" width="1" height="4" fill="#dfe0e2"/><rect x="1322" y="782" width="1" height="4" fill="#dfe0e2"/><rect x="1506" y="782" width="1" height="4" fill="#dfe0e2"/><rect x="1613" y="782" width="1" height="4" fill="#dfe0e2"/><rect x="1720" y="782" width="1" height="4" fill="#dfe0e2"/><rect x="1753" y="-2" width="4" height="1" fill="#dfe0e2"/><text x="1764" y="4.3" font-size="16" fill="#131722" textLength="69" lengthAdjust="spacingAndGlyphs">16600.00</text><rect x="1753" y="67" width="4" height="1" fill="#dfe0e2"/><text x="1764" y="73.3" font-size="16" fill="#131722" textLength="69" lengthAdjust="spacingAndGlyphs">16400.00</text><rect x="1753" y="135" width="4" height="1" fill="#dfe0e2"/><text x="1764" y="141.3" font-size="16" fill="#131722" textLength="69" lengthAdjust="spacingAndGlyphs">16200.00</text><rect x="1753" y="204" width="4" height="1" fill="#dfe0e2"/><text x="1764" y="210.3" font-size="16" fill="#131722" textLength="69" lengthAdjust="spacingAndGlyphs">16000.00</text><rect x="1753" y="273" width="4" height="1" fill="#dfe0e2"/><text x="1764" y="279.3" font-size="16" fill="#131722" textLength="69" lengthAdjust="spacingAndGlyphs">15800.00</text><rect x="1753" y="342" width="4" height="1" fill="#dfe0e2"/><text x="1764" y="348.3" font-size="16" fill="#131722" textLength="69" lengthAdjust="spacingAndGlyphs">15600.00</text><rect x="1753" y="410" width="4" height="1" fill="#dfe0e2"/><text x="1764" y="416.3" font-size="16" fill="#131722" textLength="69" lengthAdjust="spacingAndGlyphs">15400.00</text><rect x="1753" y="479" width="4" height="1" fill="#dfe0e2"/><text x="1764" y="485.3" font-size="16" fill="#131722" textLength="69" lengthAdjust="spacingAndGlyphs">15200.00</text><rect x="1753" y="548" width="4" height="1" fill="#dfe0e2"/><text x="1764" y="554.3" font-size="16" fill="#131722" textLength="69" lengthAdjust="spacingAndGlyphs">15000.00</text><rect x="1753" y="616" width="4" height="1" fill="#dfe0e2"/><text x="1764" y="622.3" font-size="16" fill="#131722" textLength="69" lengthAdjust="spacingAndGlyphs">14800.00</text><rect x="1753" y="685" width="4" height="1" fill="#dfe0e2"/><text x="1764" y="691.3" font-size="16" fill="#131722" textLength="69" lengthAdjust="spacingAndGlyphs">14600.00</text><rect x="1753" y="754" width="4" height="1" fill="#dfe0e2"/><text x="1764" y="760.3" font-size="16" fill="#131722" textLength="69" lengthAdjust="spacingAndGlyphs">14400.00</text><text x="6.5" y="805" font-size="16" fill="#131722" text-anchor="middle">2023</text><text x="112.5" y="805" font-size="16" fill="#131722" text-anchor="middle">5</text><text x="219.5" y="805" font-size="16" fill="#131722" text-anchor="middle">10</text><text x="326.5" y="805" font-size="16" fill="#131722" text-anchor="middle">13</text><text x="433.5" y="805" font-size="16" fill="#131722" text-anchor="middle">18</text><text x="539.5" y="805" font-size="16" fill="#131722" text-anchor="middle">23</text><text x="646.5" y="805" font-size="16" fill="#131722" text-anchor="middle">26</text><text x="789.5" y="805" font-size="16" fill="#131722" text-anchor="middle">Feb</text><text x="895.5" y="805" font-size="16" fill="#131722" text-anchor="middle">6</text><text x="1002.5" y="805" font-size="16" fill="#131722" text-anchor="middle">9</text><text x="1109.5" y="805" font-size="16" fill="#131722" text-anchor="middle">14</text><text x="1216.5" y="805" font-size="16" fill="#131722" text-anchor="middle">17</text><text x="1322.5" y="805" font-size="16" fill="#131722" text-anchor="middle">22</text><text x="1506.5" y="805" font-size="16" fill="#131722" text-anchor="middle">Mar</text><text x="1613.5" y="805" font-size="16" fill="#131722" text-anchor="middle">6</text><text x="1720.5" y="805" font-size="16" fill="#131722" text-anchor="middle">9</text><g transform="translate(1799.5,800.5)" stroke="#131722" fill="none" stroke-width="1.1" shape-rendering="geometricPrecision"><circle r="5"/><line x1="5.00" y1="0.00" x2="7.30" y2="0.00"/><line x1="3.54" y1="3.54" x2="5.16" y2="5.16"/><line x1="0.00" y1="5.00" x2="0.00" y2="7.30"/><line x1="-3.54" y1="3.54" x2="-5.16" y2="5.16"/><line x1="-5.00" y1="0.00" x2="-7.30" y2="0.00"/><line x1="-3.54" y1="-3.54" x2="-5.16" y2="-5.16"/><line x1="-0.00" y1="-5.00" x2="-0.00" y2="-7.30"/><line x1="3.54" y1="-3.54" x2="5.16" y2="-5.16"/></g><path d="M1752,89 H1838.5 A2.5,2.5 0 0 1 1841,91.5 V111.0 A2.5,2.5 0 0 1 1838.5,113.5 H1752 Z" fill="#f44336" shape-rendering="geometricPrecision"/><text x="1765.3" y="107.8" font-size="16" fill="#fff" font-weight="bold" textLength="68.2" lengthAdjust="spacingAndGlyphs">16300.27</text><rect x="1753" y="101" width="4" height="1" fill="#fff" fill-opacity="0.35"/><path d="M1752,451 H1838.5 A2.5,2.5 0 0 1 1841,453.5 V473.5 A2.5,2.5 0 0 1 1838.5,476 H1752 Z" fill="#4caf50" shape-rendering="geometricPrecision"/><text x="1765.3" y="470.1" font-size="16" fill="#fff" font-weight="bold" textLength="68.2" lengthAdjust="spacingAndGlyphs">15246.16</text><rect x="1753" y="463" width="4" height="1" fill="#fff" fill-opacity="0.35"/><path d="M1752,543 H1838.5 A2.5,2.5 0 0 1 1841,545.5 V565.0 A2.5,2.5 0 0 1 1838.5,567.5 H1752 Z" fill="#4caf50" shape-rendering="geometricPrecision"/><text x="1765.3" y="561.9" font-size="16" fill="#fff" font-weight="bold" textLength="68.2" lengthAdjust="spacingAndGlyphs">14978.67</text><rect x="1753" y="555" width="4" height="1" fill="#fff" fill-opacity="0.35"/><path d="M1752,401 H1838.5 A2.5,2.5 0 0 1 1841,403.5 V423.5 A2.5,2.5 0 0 1 1838.5,426 H1752 Z" fill="#26a69a" shape-rendering="geometricPrecision"/><text x="1765.3" y="420.1" font-size="16" fill="#fff" font-weight="bold" textLength="68.2" lengthAdjust="spacingAndGlyphs">15391.35</text><rect x="1753" y="413" width="4" height="1" fill="#fff" fill-opacity="0.35"/><path d="M1751,401 H1692.5 A2.5,2.5 0 0 0 1690,403.5 V423.5 A2.5,2.5 0 0 0 1692.5,426 H1751 Z" fill="#26a69a" shape-rendering="geometricPrecision"/><text x="1697" y="420.2" font-size="16" font-weight="bold" fill="#fff">Ger40</text>
</svg>
<svg width="1850" height="80" style="position:absolute;left:0;top:0">
<text x="6" y="20.1" font-size="16" fill="#131722" textLength="71.3" lengthAdjust="spacingAndGlyphs">Ger40<tspan fill="#b2b5be"> · </tspan>4h</text>
<circle cx="102" cy="14" r="8.7" fill="#089981" fill-opacity="0.15"/>
<circle cx="102" cy="14" r="4.2" fill="#089981"/>
<text y="20" font-size="12"><tspan x="126.5" fill="#6a6d78">O</tspan><tspan x="137" fill="#26a69a">15247.81</tspan><tspan x="195" fill="#6a6d78">H</tspan><tspan x="205" fill="#26a69a">15417.02</tspan><tspan x="263" fill="#6a6d78">L</tspan><tspan x="271.3" fill="#26a69a">15243.23</tspan><tspan x="329" fill="#6a6d78">C</tspan><tspan x="338.7" fill="#26a69a">15391.35</tspan><tspan x="396.5" fill="#26a69a">+144.58</tspan><tspan x="446.3" fill="#26a69a">(+0.95%)</tspan></text>
<rect x="5.5" y="30.5" width="68" height="37" rx="3" fill="#fff" stroke="#ef5350" stroke-width="1"/>
<text x="39.5" y="53.5" font-size="12.5" fill="#ef5350" text-anchor="middle">15391.35</text>
<text x="89" y="41" font-size="11" fill="#50535e" text-anchor="middle">1.24</text>
<rect x="78" y="46.5" width="22" height="21" rx="3" fill="#f7f8fb"/>
<text x="89" y="60.8" font-size="10.5" fill="#131722" text-anchor="middle">1</text>
<rect x="104.5" y="30.5" width="68" height="37" rx="3" fill="#fff" stroke="#26a69a" stroke-width="1"/>
<text x="138.5" y="53.5" font-size="12.5" fill="#26a69a" text-anchor="middle">15392.59</text>
</svg>
</body></html>
